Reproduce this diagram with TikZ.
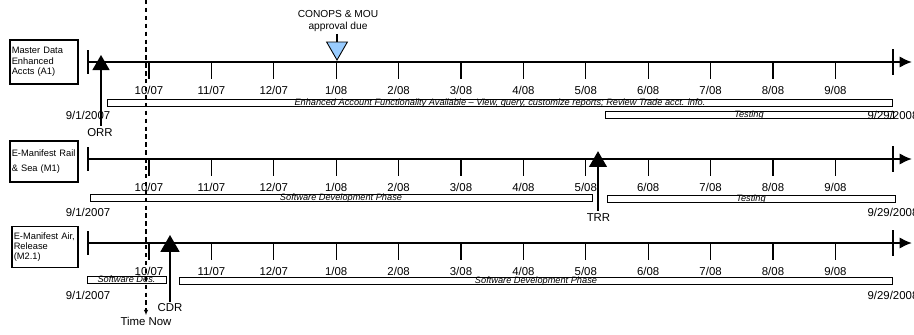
\documentclass[tikz,border=0pt]{standalone}
\usepackage{fontspec}
\setmainfont{Liberation Sans}
\usetikzlibrary{shapes.geometric,arrows.meta}
\definecolor{mkblue}{RGB}{153,204,255}

\begin{document}
\begin{tikzpicture}[x=0.02cm,y=-0.02cm,
    lbl/.style={font=\fontsize{6.5}{7.5}\selectfont, inner sep=1pt},
    rowbox/.style={draw, line width=0.6pt, align=left, text width=1.29cm, inner xsep=0.035cm,
        font=\fontsize{5.3}{5.9}\selectfont},
    axis/.style={line width=1.3pt, -{Latex[length=7pt,width=6.5pt]}},
    tick/.style={line width=0.6pt},
    phase/.style={draw, line width=0.5pt, inner sep=0pt, minimum height=0.14cm,
        text height=3.7pt, text depth=0.3pt, font=\fontsize{5.25}{5.5}\selectfont\itshape},
    milestone/.style={regular polygon, regular polygon sides=3, fill=black, inner sep=0pt, outer sep=0pt}]
    \useasboundingbox (0,0) rectangle (914,335);
    % Rows
    \foreach \r/\ay/\dy in {a/62/115, m/159/212, n/243/295} {
        \coordinate (\r s) at (88,\ay);
        \coordinate (\r e) at (912,\ay);
        \draw[axis] (\r s) -- (\r e);
        \draw[tick] (88,\ay-12) -- (88,\ay+12);
        \draw[tick] (893,\ay-13) -- (893,\ay+13);
        \foreach \m [count=\i from 0] in {10/07,11/07,12/07,1/08,2/08,3/08,4/08,5/08,6/08,7/08,8/08,9/08} {
            \draw[tick] (149+62.4*\i,\ay) -- ++(0,17);
            \node[lbl] (\r t\i) at (149+62.4*\i,\ay+28.5) {\m};
        }
        \node[lbl] (\r start) at (88,\dy) {9/1/2007};
        \node[lbl] (\r end) at (893,\dy) {9/29/2008};
    }
    % Row boxes
    \node[rowbox, minimum height=0.88cm] (a1) at (44,62) {Master Data\\Enhanced\\Accts (A1)};
    \node[rowbox, minimum height=0.82cm] (m1) at (44,161.5) {E-Manifest Rail\\[2.6pt]\& Sea (M1)};
    \node[rowbox, text width=1.25cm, minimum height=0.68cm] (m21) at (45,247) {E-Manifest Air,\\Release\\(M2.1)};
    % Phases
    \node[phase, minimum width=15.72cm] (a1p1) at (500,102.5) {Enhanced Account Functionality Available -- View, query, customize reports; Review Trade acct. info.};
    \node[phase, minimum width=5.76cm] (a1p2) at (749,115) {Testing};
    \node[phase, minimum width=10.04cm] (m1p1) at (341,197.5) {Software Development Phase};
    \node[phase, minimum width=5.76cm] (m1p2) at (751,198.5) {Testing};
    \node[phase, minimum width=1.58cm] (m21p1) at (126.5,280) {Software Des.};
    \node[phase, minimum width=14.28cm] (m21p2) at (536,280.5) {Software Development Phase};
    % Milestones
    \node[milestone, minimum size=0.4cm] (orrmk) at (101,65) {};
    \node[lbl] (orr) at (100,132.5) {ORR};
    \draw[tick] (orrmk.south) -- (orrmk.south |- orr.north);
    \node[milestone, minimum size=0.42cm] (trrmk) at (598,161.7) {};
    \node[lbl] (trr) at (598.5,217.5) {TRR};
    \draw[tick] (trrmk.south) -- (trrmk.south |- trr.north);
    \node[milestone, minimum size=0.45cm] (cdrmk) at (170,246.3) {};
    \node[lbl] (cdr) at (170,308) {CDR};
    \draw[tick] (cdrmk.south) -- (cdrmk.south |- cdr.north);
    \node[font=\fontsize{5.8}{7}\selectfont, align=center, inner sep=1pt] (conops) at (338,21) {CONOPS \& MOU\\approval due};
    \node[milestone, fill=mkblue, draw=black, line width=0.5pt, shape border rotate=180, minimum size=0.48cm] (conopsmk) at (337,48) {};
    \draw[tick] (conopsmk.north |- conops.south) -- (conopsmk.north);
    % Time now
    \coordinate (nowtop) at (146,0);
    \node[lbl] (now) at (146,321.5) {Time Now};
    \draw[line width=0.6pt, dash pattern=on 2.5pt off 2pt, -{Latex[length=3pt,width=2.5pt]}] (nowtop) -- (now);
\end{tikzpicture}
\end{document}
